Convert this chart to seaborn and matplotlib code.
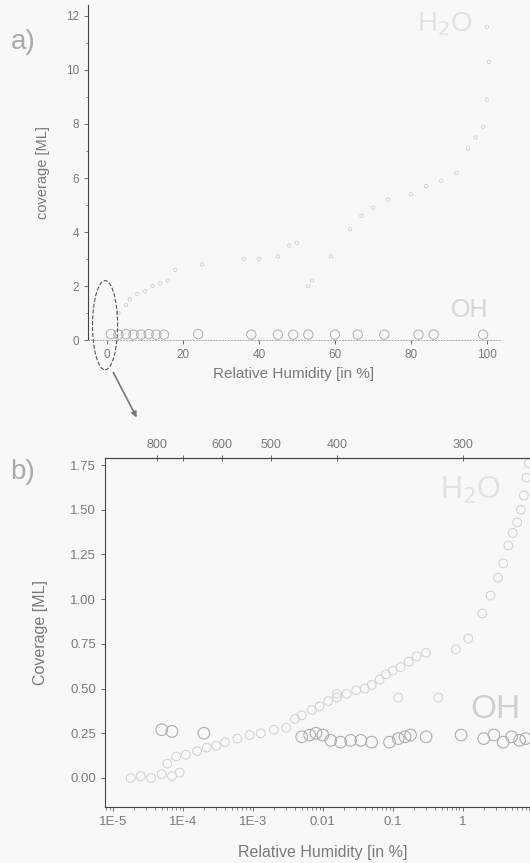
import numpy as np
import pandas as pd
import matplotlib
matplotlib.use("Agg")
import matplotlib.pyplot as plt
import seaborn as sns
from matplotlib.patches import Ellipse, FancyArrowPatch
from matplotlib.ticker import AutoMinorLocator

# ---- panel a: linear RH scale ----
rh_a_h2o = [3, 5, 6, 8, 10, 12, 14, 16, 18, 25, 36, 40, 45, 48, 50, 53, 54,
            59, 64, 67, 70, 74, 80, 84, 88, 92, 95, 97, 99, 100, 100.5, 100]
cov_a_h2o = [1.0, 1.3, 1.5, 1.7, 1.8, 2.0, 2.1, 2.2, 2.6, 2.8, 3.0, 3.0, 3.1,
             3.5, 3.6, 2.0, 2.2, 3.1, 4.1, 4.6, 4.9, 5.2, 5.4, 5.7, 5.9, 6.2,
             7.1, 7.5, 7.9, 8.9, 10.3, 11.6]
rh_a_oh = [1, 3, 5, 7, 9, 11, 13, 15, 24, 38, 45, 49, 53, 60, 66, 73, 82, 86, 99]
cov_a_oh = [0.22, 0.2, 0.22, 0.2, 0.2, 0.22, 0.2, 0.2, 0.22, 0.2, 0.2, 0.2,
            0.2, 0.2, 0.2, 0.2, 0.2, 0.2, 0.2]
ticks_a_x = [0, 20, 40, 60, 80, 100]
ticks_a_y = [0, 2, 4, 6, 8, 10, 12]

# ---- panel b: log RH scale ----
rh_b_h2o = [1.8e-5, 2.5e-5, 3.5e-5, 5e-5, 7e-5, 9e-5, 6e-5, 8e-5, 1.1e-4,
            1.6e-4, 2.2e-4, 3e-4, 4e-4, 6e-4, 9e-4, 1.3e-3, 2e-3, 3e-3,
            4e-3, 5e-3, 7e-3, 9e-3, 0.012, 0.016, 0.022, 0.03, 0.04, 0.05,
            0.065, 0.08, 0.1, 0.13, 0.17, 0.22, 0.3, 0.8, 1.2, 1.9, 2.5, 3.2,
            3.8, 4.5, 5.2, 6.0, 6.8, 7.5, 8.2, 8.8, 0.016, 0.12, 0.45]
cov_b_h2o = [0.0, 0.01, 0.0, 0.02, 0.01, 0.03, 0.08, 0.12, 0.13, 0.15, 0.17,
             0.18, 0.2, 0.22, 0.24, 0.25, 0.27, 0.28, 0.33, 0.35, 0.38, 0.4,
             0.43, 0.45, 0.47, 0.49, 0.5, 0.52, 0.55, 0.58, 0.6, 0.62, 0.65,
             0.68, 0.7, 0.72, 0.78, 0.92, 1.02, 1.12, 1.2, 1.3, 1.37, 1.43,
             1.5, 1.58, 1.68, 1.76, 0.47, 0.45, 0.45]
rh_b_oh = [5e-5, 7e-5, 2e-4, 5e-3, 6.5e-3, 8e-3, 1e-2, 1.3e-2, 1.8e-2, 2.5e-2,
           3.5e-2, 5e-2, 0.09, 0.12, 0.15, 0.18, 0.3, 0.95, 2.0, 2.8, 3.8,
           5.0, 6.5, 8.0]
cov_b_oh = [0.27, 0.26, 0.25, 0.23, 0.24, 0.25, 0.24, 0.21, 0.2, 0.21, 0.21,
            0.2, 0.2, 0.22, 0.23, 0.24, 0.23, 0.24, 0.22, 0.24, 0.2, 0.23,
            0.21, 0.22]
ticks_b_x = [1e-5, 1e-4, 1e-3, 1e-2, 0.1, 1]
labels_b_x = ["1E-5", "1E-4", "1E-3", "0.01", "0.1", "1"]
ticks_b_y = [0.0, 0.25, 0.5, 0.75, 1.0, 1.25, 1.5, 1.75]
# top axis: temperature [K] and the RH where it sits
temp_labels = ["800", "", "600", "500", "400", "300"]
temp_rh = [4.3e-5, 1.0e-4, 3.6e-4, 1.8e-3, 1.6e-2, 1.0]

sns.set_style("ticks")
plt.rcParams["font.family"] = ["Liberation Sans", "DejaVu Sans"]
bg = "#f8f8f8"
txt = "#7a7a7a"
plt.rcParams.update({"figure.facecolor": bg, "axes.facecolor": bg,
                     "text.color": txt, "axes.labelcolor": txt,
                     "xtick.color": "#555555", "ytick.color": "#555555",
                     "xtick.labelcolor": txt, "ytick.labelcolor": txt})

fig = plt.figure(figsize=(5.30, 8.63), dpi=100)
ax_a = fig.add_axes([0.166, 0.606, 0.777, 0.388])
ax_b = fig.add_axes([0.198, 0.065, 0.822, 0.404])

h2o_col = "#d0d0d0"
oh_col = "#adadad"

# panel a
df_a1 = pd.DataFrame({"rh": rh_a_h2o, "cov": cov_a_h2o})
df_a2 = pd.DataFrame({"rh": rh_a_oh, "cov": cov_a_oh})
sns.scatterplot(data=df_a1, x="rh", y="cov", ax=ax_a, s=6, marker="o",
                facecolor="none", edgecolor=h2o_col, linewidth=0.6)
sns.scatterplot(data=df_a2, x="rh", y="cov", ax=ax_a, s=45, marker="o",
                facecolor="none", edgecolor=oh_col, linewidth=0.7)
ax_a.set_xlim(-5, 103.4)
ax_a.set_ylim(0, 12.4)
ax_a.set_xticks(ticks_a_x)
ax_a.set_yticks(ticks_a_y)
ax_a.yaxis.set_minor_locator(AutoMinorLocator(2))
ax_a.tick_params(labelsize=8.5, length=3, width=0.6)
ax_a.tick_params(which="minor", length=1.5, width=0.5)
ax_a.set_xlabel("Relative Humidity [in %]", fontsize=11, labelpad=4)
ax_a.set_ylabel("coverage [ML]", fontsize=10.5, labelpad=11)
for s in ["top", "right"]:
    ax_a.spines[s].set_visible(False)
ax_a.spines["left"].set_color("#444444")
ax_a.spines["left"].set_linewidth(0.8)
ax_a.spines["bottom"].set_color("#aaaaaa")
ax_a.spines["bottom"].set_linestyle((0, (1, 2)))
ax_a.spines["bottom"].set_linewidth(0.7)
ax_a.text(89, 11.7, "H$_2$O", fontsize=20, color="#e2e2e2",
          ha="center", va="center")
ax_a.text(95.5, 1.1, "OH", fontsize=18, color="#d6d6d6",
          ha="center", va="center")
ell = Ellipse((-0.5, 0.55), 6.6, 3.3, fill=False, linestyle="--",
              edgecolor="#555555", linewidth=0.8, clip_on=False)
ax_a.add_patch(ell)

arrow = FancyArrowPatch((112 / 530, 1 - 370 / 863), (138 / 530, 1 - 420 / 863),
                        transform=fig.transFigure, arrowstyle="-|>",
                        mutation_scale=8, color="#777777", linewidth=1.2)
fig.add_artist(arrow)

# panel b
df_b1 = pd.DataFrame({"rh": rh_b_h2o, "cov": cov_b_h2o})
df_b2 = pd.DataFrame({"rh": rh_b_oh, "cov": cov_b_oh})
sns.scatterplot(data=df_b1, x="rh", y="cov", ax=ax_b, s=40, marker="o",
                facecolor="none", edgecolor=h2o_col, linewidth=0.7)
sns.scatterplot(data=df_b2, x="rh", y="cov", ax=ax_b, s=70, marker="o",
                facecolor="none", edgecolor=oh_col, linewidth=0.8)
ax_b.set_xscale("log")
ax_b.set_xlim(7.7e-6, 13)
ax_b.set_ylim(-0.162, 1.788)
ax_b.set_xticks(ticks_b_x)
ax_b.set_xticklabels(labels_b_x)
ax_b.set_yticks(ticks_b_y)
ax_b.set_yticklabels([f"{v:.2f}" for v in ticks_b_y])
ax_b.yaxis.set_minor_locator(AutoMinorLocator(2))
ax_b.tick_params(labelsize=9.5, length=3, width=0.6)
ax_b.tick_params(which="minor", length=2, width=0.5)
ax_b.set_xlabel("Relative Humidity [in %]", fontsize=11.5, labelpad=12)
ax_b.set_ylabel("Coverage [ML]", fontsize=11.5, labelpad=16)
ax_b.spines["right"].set_visible(False)
for s in ["left", "top", "bottom"]:
    ax_b.spines[s].set_color("#444444")
    ax_b.spines[s].set_linewidth(0.8)
ax_b.text(1.3, 1.61, "H$_2$O", fontsize=22, color="#e2e2e2",
          ha="center", va="center")
ax_b.text(2.9, 0.38, "OH", fontsize=24, color="#d0d0d0",
          ha="center", va="center")

top = ax_b.twiny()
top.set_xscale("log")
top.set_xlim(ax_b.get_xlim())
top.set_xticks(temp_rh)
top.set_xticklabels(temp_labels)
top.minorticks_off()
top.tick_params(labelsize=9, length=4, width=0.6, direction="inout")
for s in ["right", "left", "bottom"]:
    top.spines[s].set_visible(False)
top.spines["top"].set_color("#444444")

fig.text(0.02, 0.943, "a)", fontsize=20, color="#aaaaaa")
fig.text(0.02, 0.445, "b)", fontsize=20, color="#aaaaaa")

fig.savefig("out.png", dpi=100, facecolor=bg)
